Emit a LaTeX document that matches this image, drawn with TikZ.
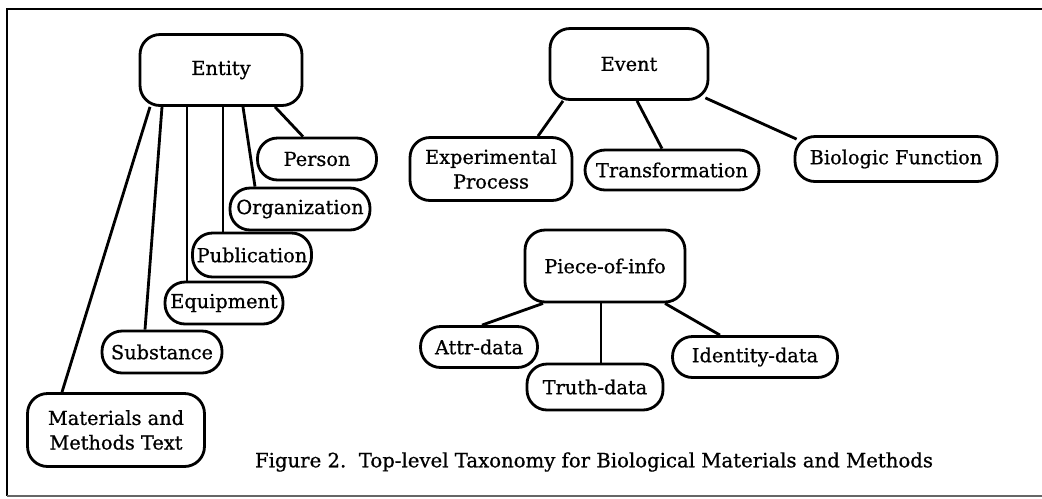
\documentclass[tikz,border=0pt]{standalone}
\usepackage{fontspec}
\setmainfont{DejaVu Serif}[FakeBold=0.8]
\usetikzlibrary{calc}

\begin{document}
\begin{tikzpicture}[x=0.02cm,y=-0.02cm,
		box/.style={draw,line width=1.6pt,rounded corners=0.4cm,align=center,inner sep=0pt,font=\fontsize{11}{14}\selectfont},
		link/.style={line width=1.6pt}]
			\useasboundingbox (0,0) rectangle (1042,498);
			% frame
			\draw[line width=1.4pt] (1042,9) -- (7,9) -- (7,496);
			\draw[line width=0.8pt,black!60] (7,496) -- (1042,496);
			% entity tree
			\node[box,minimum width=3.24cm,minimum height=1.42cm] (entity) at (221,70) {Entity};
			\node[box,minimum width=2.38cm,minimum height=0.84cm] (person) at (317,159) {Person};
			\node[box,minimum width=2.8cm,minimum height=0.84cm] (org) at (300,209) {Organization};
			\node[box,minimum width=2.38cm,minimum height=0.88cm] (pub) at (252,255) {Publication};
			\node[box,minimum width=2.36cm,minimum height=0.84cm] (equip) at (224,303) {Equipment};
			\node[box,minimum width=2.4cm,minimum height=0.84cm] (subst) at (162,352) {Substance};
			\node[box,minimum width=3.54cm,minimum height=1.46cm] (mmtext) at (116,430) {Materials and\\Methods Text};
			\draw[link] ($(entity.south)+(54,0)$) -- ($(person.north)+(-14,0)$);
			\draw[link] ($(entity.south)+(22,0)$) -- ($(org.north)+(-45,0)$);
			\draw[link] ($(entity.south)+(2,0)$) -- ($(pub.north)+(-29,0)$);
			\draw[link] ($(entity.south)+(-34,0)$) -- ($(equip.north)+(-37,0)$);
			\draw[link] ($(entity.south)+(-59,0)$) -- ($(subst.north)+(-17,0)$);
			\draw[link] ($(entity.south)+(-71,0)$) -- ($(mmtext.north)+(-54,0)$);
			% event tree
			\node[box,minimum width=3.16cm,minimum height=1.42cm] (event) at (629,64) {Event};
			\node[box,minimum width=3.24cm,minimum height=1.26cm] (expproc) at (491,169) {Experimental\\Process};
			\node[box,minimum width=3.48cm,minimum height=0.8cm] (transf) at (672,170) {Transformation};
			\node[box,minimum width=4.04cm,minimum height=0.9cm] (biofn) at (896,159) {Biologic Function};
			\draw[link] ($(event.south)+(-66,0)$) -- ($(expproc.north)+(47,0)$);
			\draw[link] ($(event.south)+(8,0)$) -- ($(transf.north)+(-10,0)$);
			\draw[link] ($(event.south east)+(-4,-3)$) -- ($(biofn.north west)+(3,4)$);
			% piece-of-info tree
			\node[box,minimum width=3.2cm,minimum height=1.44cm] (info) at (605,266) {Piece-of-info};
			\node[box,minimum width=2.34cm,minimum height=0.82cm] (attr) at (479,347) {Attr-data};
			\node[box,minimum width=2.72cm,minimum height=0.92cm] (truth) at (595,387) {Truth-data};
			\node[box,minimum width=3.3cm,minimum height=0.82cm] (ident) at (755,357) {Identity-data};
			\draw[link] ($(info.south)+(-62,0)$) -- ($(attr.north)+(3,0)$);
			\draw[link,line width=1.1pt] ($(info.south)+(-4,0)$) -- ($(truth.north)+(6,0)$);
			\draw[link] ($(info.south)+(60,0)$) -- ($(ident.north)+(-35,0)$);
			\node[font=\fontsize{11.2}{14}\selectfont] (caption) at (594,462) {Figure 2.\ \ Top-level Taxonomy for Biological Materials and Methods};
		\end{tikzpicture}
\end{document}
